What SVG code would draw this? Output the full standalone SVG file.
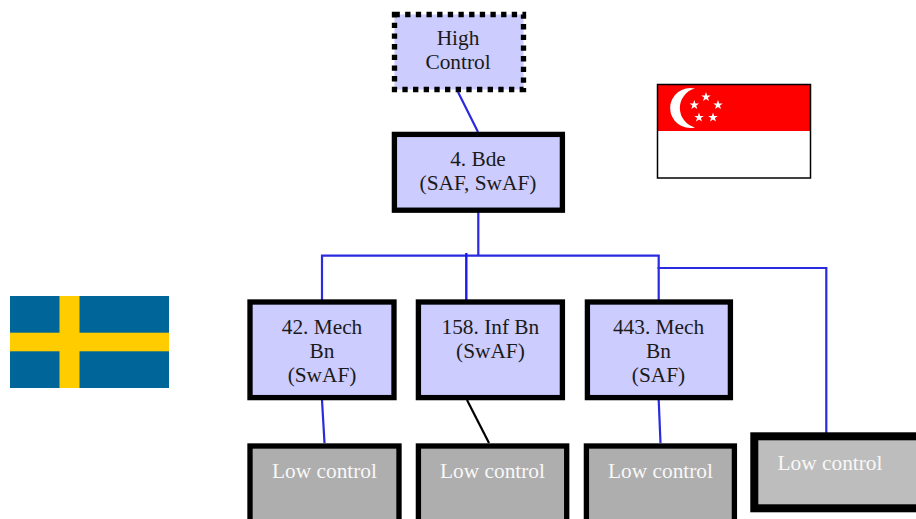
<svg xmlns="http://www.w3.org/2000/svg" xmlns:xlink="http://www.w3.org/1999/xlink" width="916" height="519" viewBox="0 0 916 519">
<style>
text{font-family:"Liberation Serif","Times New Roman",serif;font-size:21.33px;text-anchor:middle;fill:#1a1a1a}
.n{fill:#ccf;stroke:#000;stroke-width:5.33}
.l{fill:#aeaeae;stroke:#000;stroke-width:5.33}
.w{fill:#f8f8f8}
.c{fill:none;stroke:#2a2ae0;stroke-width:2.2}
</style>
<defs><polygon id="star" fill="#fff" points="0,-5 1.17,-1.62 4.76,-1.55 1.9,0.62 2.94,4.05 0,2 -2.94,4.05 -1.9,0.62 -4.76,-1.55 -1.17,-1.62"/></defs>
<g id="connectors">
<path class="c" d="M458 92L478 132M478.3 212V255.7M322 300V255.7H658.7V300M657.3 268H826.3V437M322 400L324.5 443M658.7 400L660.5 443"/>
<path class="c" style="stroke:#1a1af0;stroke-width:2.4" d="M466.3 253V302"/>
<path class="c" style="stroke:#000" d="M467 400L489 443"/>
</g>
<g id="flag-sweden"><rect x="10" y="296" width="159" height="92" fill="#006699"/><rect x="59.5" y="296" width="20" height="92" fill="#fc0"/><rect x="10" y="332.7" width="159" height="18.6" fill="#fc0"/></g>
<g id="flag-singapore"><rect x="657.5" y="84.5" width="153" height="93.5" fill="#fff"/><rect x="657.5" y="84.5" width="153" height="46.5" fill="#f00"/><path fill="#fff" d="M695 88.6A20 20 0 1 0 695 127.4A20 20 0 0 1 695 88.6Z"/><use xlink:href="#star" x="706" y="97"/><use xlink:href="#star" x="694.3" y="105"/><use xlink:href="#star" x="718" y="105"/><use xlink:href="#star" x="699" y="117.5"/><use xlink:href="#star" x="713" y="117.5"/><rect x="657.5" y="84.5" width="153" height="93.5" fill="none" stroke="#000" stroke-width="1.5"/></g>
<g id="high"><rect class="n" x="394.5" y="14.5" width="129" height="75" style="stroke-dasharray:5.33 5.33"/><text x="458" y="45">High</text><text x="458" y="69">Control</text></g>
<g id="bde"><rect class="n" x="394.4" y="134.4" width="168" height="75.8"/><text x="478" y="166">4. Bde</text><text x="478" y="190">(SAF, SwAF)</text></g>
<g id="bn42"><rect class="n" x="250" y="302" width="144" height="95.6"/><text x="322" y="334">42. Mech</text><text x="322" y="358">Bn</text><text x="322" y="382">(SwAF)</text></g>
<g id="bn158"><rect class="n" x="418.4" y="302" width="144" height="95.6"/><text x="490.4" y="334">158. Inf Bn</text><text x="490.4" y="358">(SwAF)</text></g>
<g id="bn443"><rect class="n" x="587.4" y="302" width="143" height="95.6"/><text x="658.5" y="334">443. Mech</text><text x="658.5" y="358">Bn</text><text x="658.5" y="382">(SAF)</text></g>
<g id="low1"><rect class="l" x="250" y="446" width="149" height="90"/><text class="w" x="324.5" y="478">Low control</text></g>
<g id="low2"><rect class="l" x="418.4" y="446" width="148.3" height="90"/><text class="w" x="492.5" y="478">Low control</text></g>
<g id="low3"><rect class="l" x="586.4" y="446" width="148" height="90"/><text class="w" x="660.5" y="478">Low control</text></g>
<g id="low4"><rect x="754.3" y="436.3" width="180" height="72" fill="#bdbdbd" stroke="#000" stroke-width="8"/><text class="w" x="830" y="470">Low control</text></g>
</svg>
